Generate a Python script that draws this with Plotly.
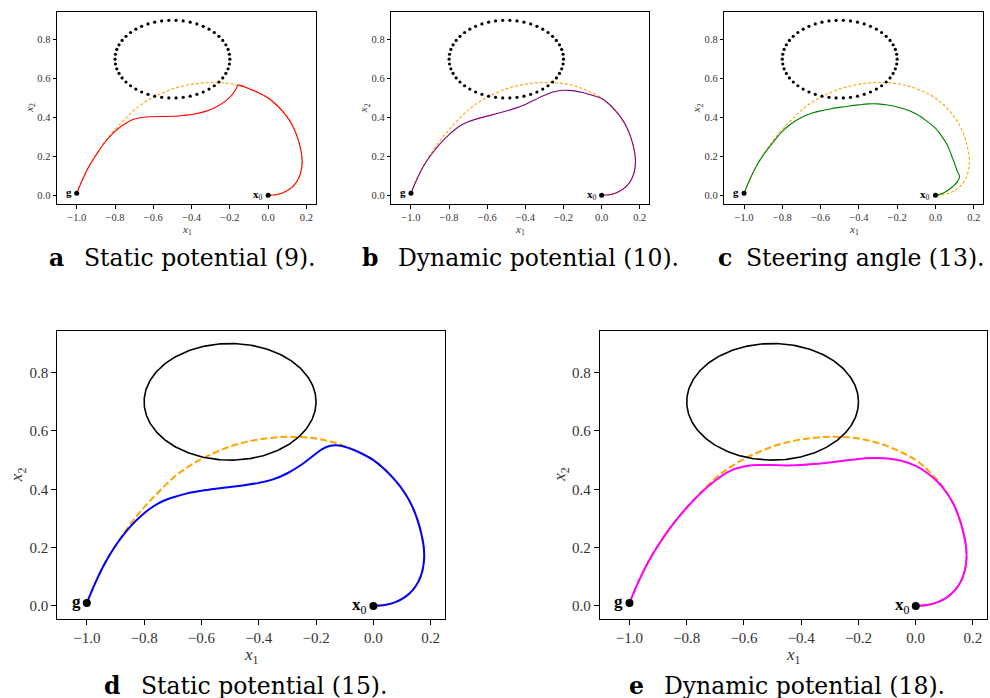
import numpy as np
import plotly.graph_objects as go

W, H = 990, 698

# ---------------- data ----------------
# reference trajectory (orange dashed), from g to x0
ref_x = [-1.0, -0.97, -0.935, -0.895, -0.85, -0.80, -0.75, -0.70, -0.65, -0.60,
         -0.55, -0.50, -0.45, -0.40, -0.35, -0.30, -0.25, -0.20, -0.15, -0.10,
         -0.05, 0.0, 0.04, 0.077, 0.108, 0.134, 0.154, 0.168, 0.176, 0.177, 0.171,
         0.158, 0.138, 0.11, 0.075, 0.04, 0.0]
ref_y = [0.01, 0.08, 0.15, 0.215, 0.278, 0.338, 0.39, 0.438, 0.475, 0.504,
         0.527, 0.547, 0.561, 0.571, 0.577, 0.58, 0.579, 0.574, 0.564, 0.548,
         0.527, 0.50, 0.468, 0.43, 0.39, 0.345, 0.295, 0.245, 0.20, 0.16, 0.12,
         0.085, 0.055, 0.03, 0.012, 0.003, 0.0]

# (a) static potential (9) - red
a_x = [-1.0, -0.97, -0.935, -0.895, -0.855, -0.81, -0.76, -0.71, -0.66, -0.60,
       -0.55, -0.50, -0.45, -0.40, -0.35, -0.30, -0.26, -0.22, -0.19, -0.172,
       -0.163, -0.158, -0.10, -0.05, 0.0, 0.04, 0.077, 0.108, 0.134, 0.154, 0.168,
       0.176, 0.177, 0.171, 0.158, 0.138, 0.11, 0.075, 0.04, 0.0]
a_y = [0.01, 0.08, 0.15, 0.213, 0.27, 0.32, 0.36, 0.388, 0.40, 0.404,
       0.405, 0.406, 0.41, 0.415, 0.425, 0.441, 0.46, 0.487, 0.515, 0.54,
       0.556, 0.566, 0.548, 0.527, 0.50, 0.468, 0.43, 0.39, 0.345, 0.295, 0.245,
       0.20, 0.16, 0.12, 0.085, 0.055, 0.03, 0.012, 0.003, 0.0]

# (b) dynamic potential (10) - purple
b_x = [-1.0, -0.97, -0.935, -0.895, -0.85, -0.80, -0.75, -0.70, -0.65, -0.60,
       -0.55, -0.50, -0.45, -0.40, -0.35, -0.30, -0.25, -0.20, -0.15, -0.10,
       -0.05, 0.0, 0.04, 0.077, 0.108, 0.134, 0.154, 0.168, 0.176, 0.177, 0.171,
       0.158, 0.138, 0.11, 0.075, 0.04, 0.0]
b_y = [0.01, 0.08, 0.148, 0.207, 0.262, 0.312, 0.352, 0.378, 0.394, 0.407,
       0.42, 0.433, 0.448, 0.467, 0.491, 0.514, 0.532, 0.54, 0.538, 0.528,
       0.514, 0.497, 0.468, 0.43, 0.39, 0.345, 0.295, 0.245, 0.20, 0.16, 0.12,
       0.085, 0.055, 0.03, 0.012, 0.003, 0.0]

# (c) steering angle (13) - green
c_x = [-1.0, -0.97, -0.935, -0.895, -0.85, -0.80, -0.75, -0.70, -0.65, -0.60,
       -0.55, -0.50, -0.45, -0.40, -0.35, -0.30, -0.25, -0.20, -0.15, -0.10,
       -0.05, 0.0, 0.035, 0.06, 0.08, 0.10, 0.115, 0.126, 0.115, 0.09, 0.06,
       0.03, 0.0]
c_y = [0.01, 0.08, 0.15, 0.213, 0.27, 0.328, 0.37, 0.40, 0.42, 0.434,
       0.444, 0.452, 0.459, 0.465, 0.47, 0.47, 0.464, 0.454, 0.44, 0.418,
       0.385, 0.345, 0.30, 0.262, 0.215, 0.163, 0.122, 0.097, 0.07, 0.045, 0.022,
       0.007, 0.0]

# (d) static potential (15) - blue
d_x = [-1.0, -0.97, -0.935, -0.895, -0.85, -0.80, -0.75, -0.70, -0.65, -0.60,
       -0.55, -0.50, -0.45, -0.40, -0.35, -0.30, -0.25, -0.21, -0.18, -0.15,
       -0.12, -0.09, -0.05, 0.0, 0.04, 0.077, 0.108, 0.134, 0.154, 0.168, 0.176,
       0.177, 0.171, 0.158, 0.138, 0.11, 0.075, 0.04, 0.0]
d_y = [0.01, 0.08, 0.15, 0.213, 0.27, 0.318, 0.352, 0.372, 0.386, 0.395,
       0.402, 0.408, 0.414, 0.422, 0.434, 0.455, 0.485, 0.515, 0.537, 0.549,
       0.55, 0.543, 0.527, 0.50, 0.468, 0.43, 0.39, 0.345, 0.295, 0.245, 0.20,
       0.16, 0.12, 0.085, 0.055, 0.03, 0.012, 0.003, 0.0]

# (e) dynamic potential (18) - magenta
e_x = [-1.0, -0.97, -0.935, -0.895, -0.85, -0.80, -0.75, -0.70, -0.65, -0.60,
       -0.55, -0.50, -0.45, -0.40, -0.35, -0.30, -0.25, -0.20, -0.15, -0.10,
       -0.05, 0.0, 0.04, 0.077, 0.108, 0.134, 0.154, 0.168, 0.176, 0.177, 0.171,
       0.158, 0.138, 0.11, 0.075, 0.04, 0.0]
e_y = [0.01, 0.08, 0.15, 0.215, 0.278, 0.337, 0.388, 0.43, 0.462, 0.478,
       0.483, 0.483, 0.482, 0.483, 0.487, 0.492, 0.498, 0.504, 0.507, 0.506,
       0.498, 0.48, 0.456, 0.425, 0.388, 0.345, 0.295, 0.245, 0.20, 0.16, 0.12,
       0.085, 0.055, 0.03, 0.012, 0.003, 0.0]

goal = (-1.0, 0.01)
start = (0.0, 0.0)
obs_center = (-0.5, 0.7)
obs_radii = (0.3, 0.2)
n_obs_dots = 50

x_ticks = [-1.0, -0.8, -0.6, -0.4, -0.2, 0.0, 0.2]
x_tick_labels = ["\u22121.0", "\u22120.8", "\u22120.6", "\u22120.4", "\u22120.2", "0.0", "0.2"]
y_ticks = [0.0, 0.2, 0.4, 0.6, 0.8]
y_tick_labels = ["0.0", "0.2", "0.4", "0.6", "0.8"]

letters = ["a", "b", "c", "d", "e"]
captions = ["Static potential (9).", "Dynamic potential (10).", "Steering angle (13).",
            "Static potential (15).", "Dynamic potential (18)."]
colors = ["red", "purple", "green", "blue", "magenta"]
traj_x = [a_x, b_x, c_x, d_x, e_x]
traj_y = [a_y, b_y, c_y, d_y, e_y]

# ---------------- layout geometry (pixels) ----------------
boxes = [(57, 11.7, 316, 204), (391.3, 11.7, 649.3, 204), (724.3, 11.7, 983.3, 204),
         (57.3, 330.7, 445, 619), (600, 330.7, 987.3, 619)]
small = [True, True, True, False, False]
letter_x = [47, 360, 716, 102, 627]
text_x = [82, 396, 744, 139, 662]
caption_y = [258, 258, 258, 686, 686]

XR = [-1.103, 0.25]
YR = [-0.045, 0.944]


def px(x):
    return x / W


def py(y):
    return 1 - y / H


fig = go.Figure()
layout = dict(width=W, height=H, margin=dict(l=0, r=0, t=0, b=0), autosize=False,
              plot_bgcolor="white", paper_bgcolor="white", showlegend=False)
annotations = []

th = np.linspace(0, 2 * np.pi, n_obs_dots, endpoint=False)
th_full = np.linspace(0, 2 * np.pi, 300)

for i in range(5):
    k = i + 1
    xa = "x" if k == 1 else f"x{k}"
    ya = "y" if k == 1 else f"y{k}"
    L, T, R, B = boxes[i]
    sm = small[i]
    tickfs = 10.5 if sm else 15
    labfs = 11 if sm else 17
    lw = 1.1 if sm else 2
    ticklen = 3.5 if sm else 5
    layout[f"xaxis{'' if k == 1 else k}"] = dict(
        domain=[px(L), px(R)], anchor=ya, range=XR, showline=True, mirror=True,
        linecolor="black", linewidth=1 if sm else 1.3, ticks="outside", ticklen=ticklen,
        tickwidth=1, tickcolor="black", showgrid=False, zeroline=False,
        tickvals=x_ticks, ticktext=x_tick_labels,
        tickfont=dict(family="Liberation Serif", size=tickfs, color="#333"))
    layout[f"yaxis{'' if k == 1 else k}"] = dict(
        domain=[py(B), py(T)], anchor=xa, range=YR, showline=True, mirror=True,
        linecolor="black", linewidth=1 if sm else 1.3, ticks="outside", ticklen=ticklen,
        tickwidth=1, tickcolor="black", showgrid=False, zeroline=False,
        tickvals=y_ticks, ticktext=y_tick_labels,
        tickfont=dict(family="Liberation Serif", size=tickfs, color="#333"))

    # reference trajectory
    fig.add_trace(go.Scatter(x=ref_x, y=ref_y, mode="lines", xaxis=xa, yaxis=ya,
                             line=dict(color="orange", width=1.1 if sm else 2,
                                       dash="3px,2px" if sm else "7px,3px",
                                       shape="spline", smoothing=1.0)))
    # trajectory
    fig.add_trace(go.Scatter(x=traj_x[i], y=traj_y[i], mode="lines", xaxis=xa, yaxis=ya,
                             line=dict(color=colors[i], width=lw, shape="spline",
                                       smoothing=1.0)))
    # obstacle
    if sm:
        ox = obs_center[0] + obs_radii[0] * np.cos(th)
        oy = obs_center[1] + obs_radii[1] * np.sin(th)
        fig.add_trace(go.Scatter(x=ox, y=oy, mode="markers", xaxis=xa, yaxis=ya,
                                 marker=dict(color="black", size=3.2)))
    else:
        ox = obs_center[0] + obs_radii[0] * np.cos(th_full)
        oy = obs_center[1] + obs_radii[1] * np.sin(th_full)
        fig.add_trace(go.Scatter(x=ox, y=oy, mode="lines", xaxis=xa, yaxis=ya,
                                 line=dict(color="black", width=1.6)))
    # endpoints
    fig.add_trace(go.Scatter(x=[goal[0], start[0]], y=[goal[1], start[1]], mode="markers",
                             xaxis=xa, yaxis=ya,
                             marker=dict(color="black", size=5 if sm else 8)))
    ptfs = 11 if sm else 17
    annotations.append(dict(x=goal[0], y=goal[1], xref=xa, yref=ya, text="<b>g</b>",
                            showarrow=False, xanchor="right", yanchor="middle",
                            xshift=-3 if sm else -4, yshift=1,
                            font=dict(family="Liberation Serif", size=ptfs, color="black")))
    annotations.append(dict(x=start[0], y=start[1], xref=xa, yref=ya,
                            text="<b>x</b><sub>0</sub>",
                            showarrow=False, xanchor="right", yanchor="middle",
                            xshift=-3 if sm else -4, yshift=0,
                            font=dict(family="Liberation Serif", size=ptfs, color="black")))
    # axis titles
    cx = (L + R) / 2
    cy = (T + B) / 2
    annotations.append(dict(x=px(cx), y=py(B + (26 if sm else 37)), xref="paper", yref="paper",
                            text="<i>x</i><sub>1</sub>", showarrow=False,
                            xanchor="center", yanchor="middle",
                            font=dict(family="Liberation Serif", size=labfs, color="#333")))
    annotations.append(dict(x=px(L - (27 if sm else 39)), y=py(cy), xref="paper", yref="paper",
                            text="<i>x</i><sub>2</sub>", showarrow=False, textangle=-90,
                            xanchor="center", yanchor="middle",
                            font=dict(family="Liberation Serif", size=labfs, color="#333")))
    # captions
    annotations.append(dict(x=px(letter_x[i]), y=py(caption_y[i]), xref="paper", yref="paper",
                            text=f"<b>{letters[i]}</b>", showarrow=False,
                            xanchor="left", yanchor="middle",
                            font=dict(family="DejaVu Serif", size=23.5, color="black")))
    annotations.append(dict(x=px(text_x[i]), y=py(caption_y[i]), xref="paper", yref="paper",
                            text=captions[i], showarrow=False,
                            xanchor="left", yanchor="middle",
                            font=dict(family="DejaVu Serif", size=23.5, color="black")))

layout["annotations"] = annotations
fig.update_layout(**layout)
fig.write_html("out.html")
